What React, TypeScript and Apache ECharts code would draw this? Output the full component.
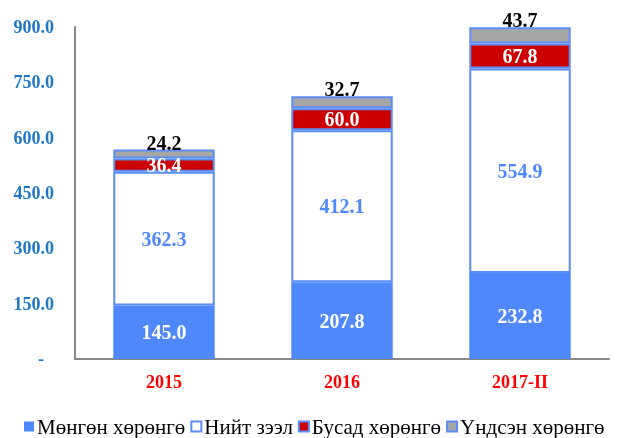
import React, { useEffect, useRef } from "react";
import * as echarts from "echarts";

const categories = ["2015", "2016", "2017-II"];
const seriesNames = ["Мөнгөн хөрөнгө", "Нийт зээл", "Бусад хөрөнгө", "Үндсэн хөрөнгө"];
const cash = [145.0, 207.8, 232.8];
const loans = [362.3, 412.1, 554.9];
const other = [36.4, 60.0, 67.8];
const fixed = [24.2, 32.7, 43.7];

const FONT = "'Liberation Serif', 'Times New Roman', serif";
const BLUE = "#4F88FB";
const BORDER = "#5B8EF5";

export default function App() {
  const ref = useRef<HTMLDivElement>(null);
  useEffect(() => {
    if (!ref.current) return;
    const chart = echarts.init(ref.current, null, { renderer: "svg" });
    const labelBase = {
      show: true,
      fontFamily: FONT,
      fontWeight: "bold" as const,
      fontSize: 20,
      formatter: (p: any) => Number(p.value).toFixed(1),
    };
    chart.setOption({
      animation: false,
      grid: { left: 75, right: 9, top: 27, bottom: 79, containLabel: false },
      legend: {
        left: 24,
        top: 416,
        padding: 0,
        width: 900,
        itemWidth: 10,
        itemHeight: 10,
        itemGap: 5,
        icon: "rect",
        textStyle: {
          fontFamily: FONT,
          fontSize: 21,
          lineHeight: 21,
          color: "#000",
          padding: [0, 0, 0, -2],
        },
        data: seriesNames,
      },
      xAxis: {
        type: "category",
        data: categories,
        axisLine: { lineStyle: { color: "#888", width: 2 } },
        axisTick: { show: false },
        axisLabel: {
          color: "#FF0000",
          fontFamily: FONT,
          fontWeight: "bold",
          fontSize: 18,
          margin: 14,
        },
      },
      yAxis: {
        type: "value",
        min: 0,
        max: 900,
        interval: 150,
        axisLine: { show: true, lineStyle: { color: "#888", width: 2 } },
        axisTick: { show: false },
        splitLine: { show: false },
        axisLabel: {
          color: "#1F77C8",
          fontFamily: FONT,
          fontWeight: "bold",
          fontSize: 18,
          margin: 21,
          formatter: (v: number) => (v === 0 ? "{d|-}" : v.toFixed(1)),
          rich: {
            d: {
              color: "#1F77C8",
              fontFamily: FONT,
              fontWeight: "bold",
              fontSize: 18,
              padding: [0, 10, 0, 0],
            },
          },
        },
      },
      series: [
        {
          name: seriesNames[0],
          type: "bar",
          stack: "total",
          barWidth: "57%",
          data: cash,
          itemStyle: { color: BLUE, borderColor: BLUE, borderWidth: 0 },
          label: { ...labelBase, position: "inside", color: "#fff" },
        },
        {
          name: seriesNames[1],
          type: "bar",
          stack: "total",
          data: loans,
          itemStyle: { color: "#fff", borderColor: BORDER, borderWidth: 2 },
          label: { ...labelBase, position: "inside", color: BLUE },
        },
        {
          name: seriesNames[2],
          type: "bar",
          stack: "total",
          data: other,
          itemStyle: { color: "#CC0000", borderColor: BORDER, borderWidth: 2 },
          label: { ...labelBase, position: "inside", color: "#fff" },
        },
        {
          name: seriesNames[3],
          type: "bar",
          stack: "total",
          data: fixed,
          itemStyle: { color: "#A6A6A6", borderColor: BORDER, borderWidth: 2 },
          label: { ...labelBase, position: "top", distance: -3, color: "#000" },
        },
      ],
    });
    return () => chart.dispose();
  }, []);
  return (
    <div
      ref={ref}
      style={{ position: "fixed", left: 0, top: 0, width: 618, height: 438 }}
    />
  );
}
